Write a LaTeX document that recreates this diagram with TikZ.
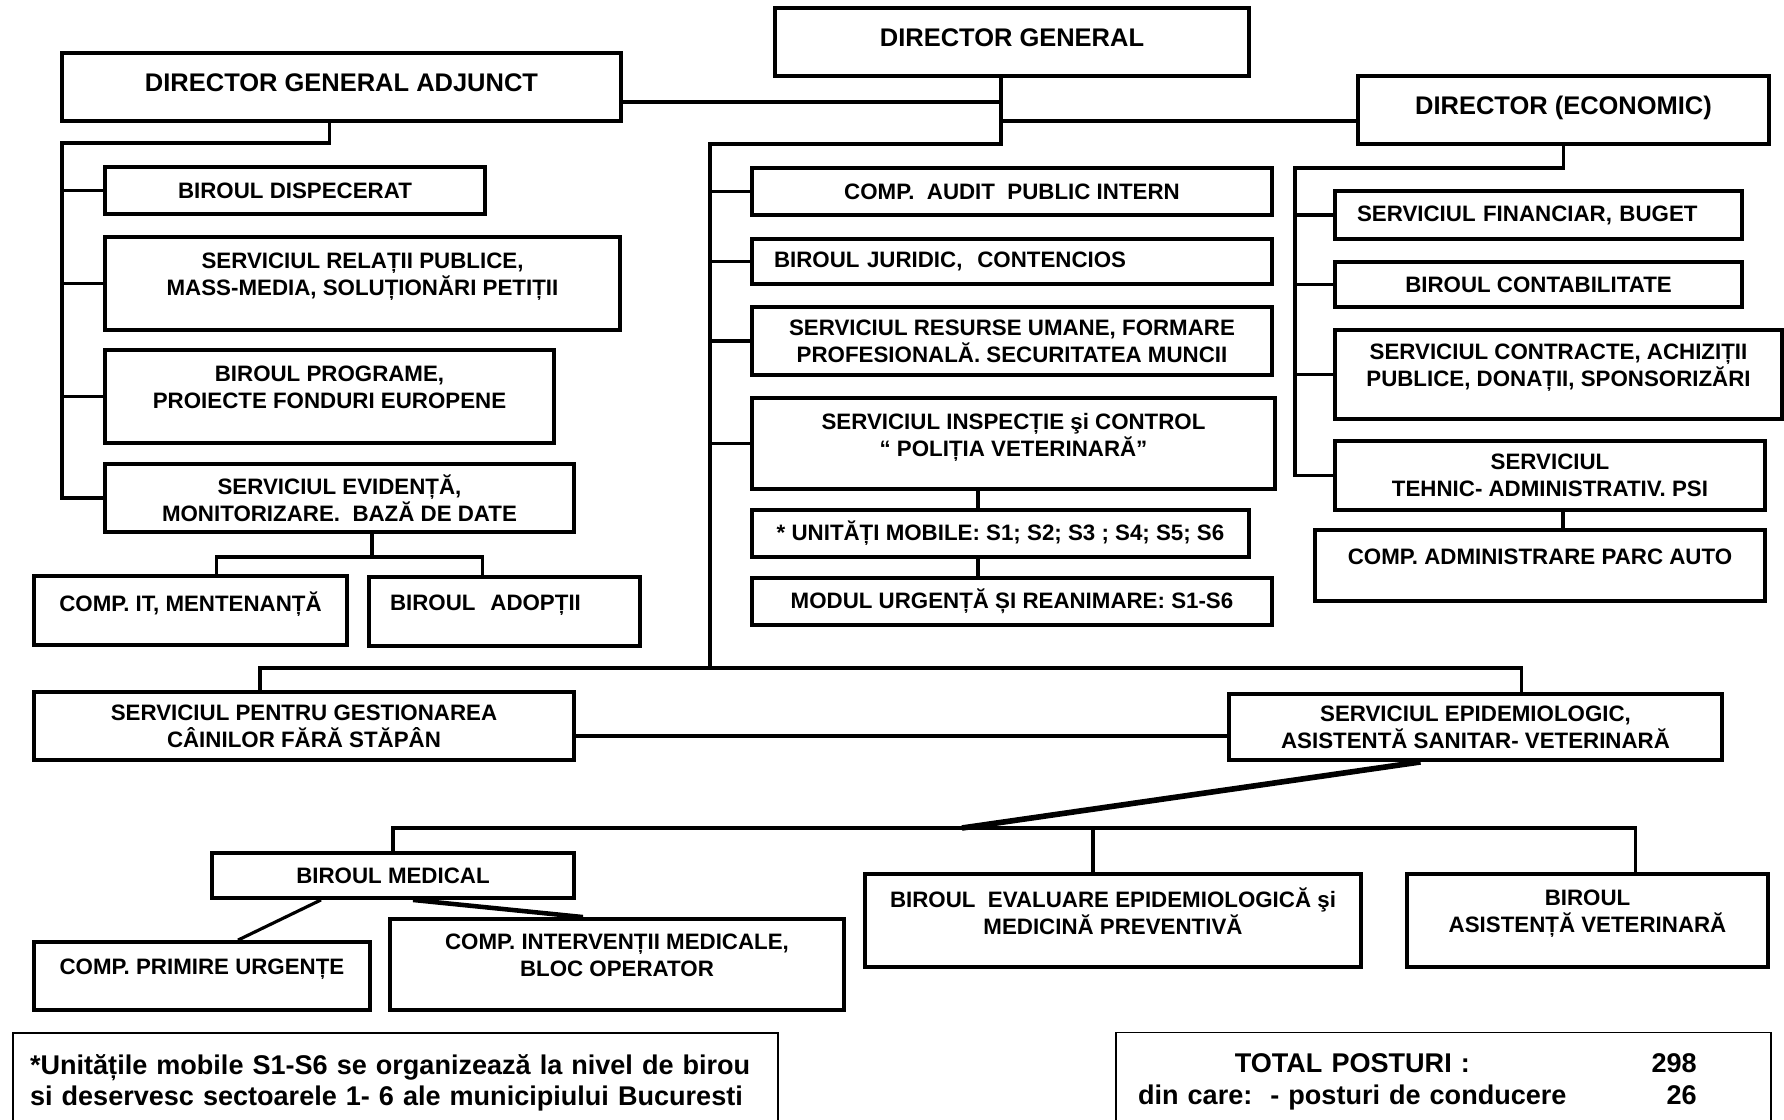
\documentclass[tikz,border=0pt]{standalone}
\usepackage{fontspec}
\setmainfont{Liberation Sans}
\usetikzlibrary{calc}

\begin{document}
\begin{tikzpicture}[x=0.02cm, y=-0.02cm,
		box/.style={draw, line width=2.2pt, align=center, inner sep=2pt,
			font=\fontsize{12.7}{15.4}\selectfont\bfseries},
		head/.style={box, text depth=0.18cm, font=\fontsize{14.5}{17}\selectfont\bfseries},
		raised/.style={text depth=0.36cm},
		notebox/.style={draw, line width=0.9pt, inner sep=2pt,
			font=\fontsize{15.4}{18}\selectfont\bfseries},
		conn/.style={line width=1.8pt},
		slant/.style={line width=3.2pt}]

		\useasboundingbox (0,0) rectangle (1784,1119);

		% conducere
		\node[head, minimum width=9.48cm, minimum height=1.36cm] (dg) at (1012,42) {DIRECTOR GENERAL};
		\node[head, minimum width=11.18cm, minimum height=1.36cm] (dga) at (341.5,87) {DIRECTOR GENERAL ADJUNCT};
		\node[head, minimum width=8.22cm, minimum height=1.36cm] (de) at (1563.5,110) {DIRECTOR (ECONOMIC)};

		% coloana stanga
		\node[box, minimum width=7.6cm, minimum height=0.94cm] (disp) at (295,190.5) {BIROUL DISPECERAT};
		\node[box, raised, minimum width=10.3cm, minimum height=1.86cm] (relpub) at (362.5,283.5) {SERVICIUL RELAȚII PUBLICE,\\MASS-MEDIA, SOLUȚIONĂRI PETIȚII};
		\node[box, raised, minimum width=8.98cm, minimum height=1.86cm] (prog) at (329.5,396.5) {BIROUL PROGRAME,\\PROIECTE FONDURI EUROPENE};
		\node[box, minimum width=9.38cm, minimum height=1.36cm] (evid) at (339.5,498) {SERVICIUL EVIDENȚĂ,\\MONITORIZARE.\ \ BAZĂ DE DATE};
		\node[box, raised, minimum width=6.26cm, minimum height=1.38cm] (compit) at (190.5,610.5) {COMP. IT, MENTENANȚĂ};
		\node[box, raised, align=left, text width=4.58cm, inner xsep=0.42cm, minimum height=1.38cm] (adoptii) at (504.5,611.5) {BIROUL\ \ ADOPȚII};

		% coloana mijloc
		\node[box, minimum width=10.4cm, minimum height=0.94cm] (audit) at (1012,191.5) {COMP.\ \ AUDIT\ \ PUBLIC INTERN};
		\node[box, align=left, text width=9.52cm, inner xsep=0.44cm, minimum height=0.9cm] (jurid) at (1012,261.5) {BIROUL JURIDIC,\ \ CONTENCIOS};
		\node[box, minimum width=10.4cm, minimum height=1.36cm] (resurse) at (1012,341) {SERVICIUL RESURSE UMANE, FORMARE\\PROFESIONALĂ. SECURITATEA MUNCII};
		\node[box, raised, minimum width=10.46cm, minimum height=1.82cm] (inspect) at (1013.5,443.5) {SERVICIUL INSPECȚIE şi CONTROL\\“ POLIȚIA VETERINARĂ”};
		\node[box, minimum width=9.94cm, minimum height=0.94cm] (unitati) at (1000.5,533.5) {* UNITĂȚI MOBILE: S1; S2; S3 ; S4; S5; S6};
		\node[box, minimum width=10.4cm, minimum height=0.94cm] (modul) at (1012,601.5) {MODUL URGENȚĂ ȘI REANIMARE: S1-S6};

		% coloana dreapta
		\node[box, align=left, text width=7.26cm, inner xsep=0.44cm, minimum height=0.96cm] (fin) at (1538.5,215) {SERVICIUL FINANCIAR, BUGET};
		\node[box, minimum width=8.14cm, minimum height=0.9cm] (contab) at (1538.5,284.5) {BIROUL CONTABILITATE};
		\node[box, raised, minimum width=8.94cm, minimum height=1.78cm] (contr) at (1558.5,374.5) {SERVICIUL CONTRACTE, ACHIZIȚII\\PUBLICE, DONAȚII, SPONSORIZĂRI};
		\node[box, minimum width=8.6cm, minimum height=1.38cm] (tehnic) at (1550,475.5) {SERVICIUL\\TEHNIC- ADMINISTRATIV. PSI};
		\node[box, raised, minimum width=9cm, minimum height=1.42cm] (parc) at (1540,565.5) {COMP. ADMINISTRARE PARC AUTO};

		% jos
		\node[box, minimum width=10.8cm, minimum height=1.36cm] (gest) at (304,726) {SERVICIUL PENTRU GESTIONAREA\\CÂINILOR FĂRĂ STĂPÂN};
		\node[box, minimum width=9.86cm, minimum height=1.32cm] (epid) at (1475.5,727) {SERVICIUL EPIDEMIOLOGIC,\\ASISTENTĂ SANITAR- VETERINARĂ};
		\node[box, minimum width=7.24cm, minimum height=0.9cm] (medical) at (393,875.5) {BIROUL MEDICAL};
		\node[box, raised, minimum width=9.92cm, minimum height=1.86cm] (evaluare) at (1113,920.5) {BIROUL\ \ EVALUARE EPIDEMIOLOGICĂ şi\\MEDICINĂ PREVENTIVĂ};
		\node[box, raised, minimum width=7.22cm, minimum height=1.86cm] (asist) at (1587.5,920.5) {BIROUL\\ASISTENȚĂ VETERINARĂ};
		\node[box, raised, minimum width=6.72cm, minimum height=1.36cm] (primire) at (202,976) {COMP. PRIMIRE URGENȚE};
		\node[box, raised, minimum width=9.08cm, minimum height=1.82cm] (interv) at (617,964.5) {COMP. INTERVENȚII MEDICALE,\\BLOC OPERATOR};

		\node[notebox, align=left, text width=14.62cm, inner xsep=0.34cm, minimum height=2cm] (note) at (395.5,1083) {*Unitățile mobile S1-S6 se organizează la nivel de birou\\si deservesc sectoarele 1- 6 ale municipiului Bucuresti};
		\node[notebox, align=left, text width=12.22cm, inner xsep=0.44cm, minimum height=1.98cm] (total) at (1443.5,1082) {\begin{tabular}{@{}c@{\hspace{1.7cm}}r@{}}TOTAL POSTURI : & 298\\din care:\ \ - posturi de conducere & 26\end{tabular}};

		% legaturi
		\coordinate (dgs) at ($(dg.south)+(-11,0)$);
		\coordinate (lt) at (62,143);
		\coordinate (mt) at (710,144);
		\coordinate (rt) at (1295,168);
		\coordinate (mb) at (710,668);
		\coordinate (eb) at (372,557);
		\coordinate (mu) at (978,500);
		\coordinate (lb) at (962,828);

		\draw[conn] (dgs) |- (mt) -- (mb);
		\draw[conn] ($(dga.east)+(0,15)$) -| (dgs);
		\draw[conn] ($(de.west)+(0,11)$) -| (dgs);

		\draw[conn] ($(dga.south)+(-12,0)$) |- (lt) |- (evid.west);
		\foreach \b in {disp,relpub,prog}
			\draw[conn] (\b.west) -- (\b.west -| lt);
		\draw[conn] (evid.south -| eb) -- (eb);
		\draw[conn] ($(compit.north)+(26,0)$) |- (eb) -| ($(adoptii.north)+(-22,0)$);

		\foreach \b in {audit,jurid,resurse,inspect}
			\draw[conn] (\b.west) -- (\b.west -| mt);
		\draw[conn] (inspect.south -| mu) -- (unitati.north -| mu);
		\draw[conn] (unitati.south -| mu) -- (modul.north -| mu);

		\draw[conn] (de.south) |- (rt) |- (tehnic.west);
		\foreach \b in {fin,contab,contr}
			\draw[conn] (\b.west) -- (\b.west -| rt);
		\draw[conn] ($(tehnic.south)+(13,0)$) -- ($(parc.north)+(23,0)$);

		\draw[conn] ($(gest.north)+(-44,0)$) |- (mb) -| ($(epid.north)+(46,0)$);
		\draw[conn] ($(gest.east)+(0,10)$) coordinate (gl) -- (gl -| epid.west);
		\draw[slant] ($(epid.south)+(-55,0)$) -- (lb);
		\draw[conn] (medical.north) |- (lb) -| ($(asist.north)+(48,0)$);
		\draw[conn] ($(evaluare.north)+(-20,0)$) |- (lb);
		\draw[conn] ($(medical.south)+(-72,0)$) -- ($(primire.north)+(36,0)$);
		\draw[slant, line width=2.6pt] ($(medical.south)+(20,0)$) -- ($(interv.north)+(-34,0)$);
	\end{tikzpicture}
\end{document}
